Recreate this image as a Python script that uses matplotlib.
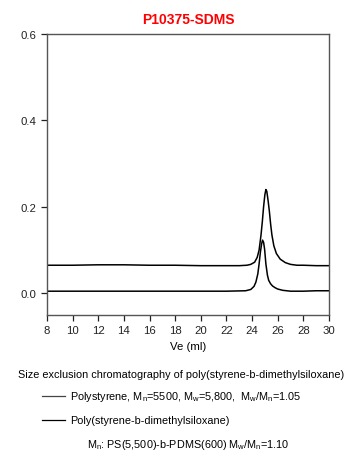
import matplotlib

matplotlib.use('Agg')
import numpy as np
import matplotlib.pyplot as plt
from matplotlib.lines import Line2D

plt.rcParams['font.family'] = ['Liberation Sans', 'DejaVu Sans']
plt.rcParams['mathtext.fontset'] = 'custom'
plt.rcParams['mathtext.rm'] = 'Liberation Sans'
plt.rcParams['mathtext.it'] = 'Liberation Sans'

# elution volume (ml) and detector signal
ps_ve = [8, 10, 12, 14, 16, 18, 20, 22, 23, 23.6, 23.9, 24.2, 24.4, 24.55, 24.7, 24.8,
         24.9, 25.0, 25.08, 25.15, 25.25, 25.35, 25.45, 25.55, 25.7, 25.9, 26.2,
         26.6, 27.0, 27.5, 28, 29, 30]
ps_sig = [0.065, 0.065, 0.066, 0.066, 0.065, 0.065, 0.064, 0.064, 0.064, 0.065, 0.067,
          0.072, 0.083, 0.100, 0.135, 0.165, 0.200, 0.228, 0.240, 0.236, 0.215, 0.190,
          0.160, 0.135, 0.110, 0.092, 0.079, 0.071, 0.067, 0.065, 0.065, 0.064, 0.064]

sdms_ve = [8, 10, 12, 14, 16, 18, 20, 22, 23.5, 23.9, 24.15, 24.3, 24.45, 24.55, 24.65,
           24.75, 24.82, 24.9, 24.98, 25.08, 25.2, 25.3, 25.45, 25.6, 25.8, 26.0,
           26.4, 27.0, 28, 29, 30]
sdms_sig = [0.005, 0.005, 0.005, 0.005, 0.005, 0.005, 0.005, 0.005, 0.006, 0.009, 0.016,
            0.026, 0.045, 0.068, 0.095, 0.115, 0.123, 0.118, 0.102, 0.068, 0.042, 0.030,
            0.022, 0.017, 0.013, 0.010, 0.007, 0.005, 0.005, 0.006, 0.006]

x_ticks = [8, 10, 12, 14, 16, 18, 20, 22, 24, 26, 28, 30]
y_ticks = [0.0, 0.2, 0.4, 0.6]

fig = plt.figure(figsize=(3.56, 4.64), dpi=100)
ax = fig.add_axes([0.132, 0.319, 0.792, 0.606])

ax.plot(ps_ve, ps_sig, color='black', linewidth=1.1)
ax.plot(sdms_ve, sdms_sig, color='black', linewidth=1.1)

ax.set_xlim(8, 30)
ax.set_ylim(-0.05, 0.6)
ax.set_xticks(x_ticks)
ax.set_yticks(y_ticks)
ax.set_yticklabels(['%.1f' % v for v in y_ticks])
ax.tick_params(direction='out', length=4, width=0.9, labelsize=8.2, colors='#222222')
for s in ax.spines.values():
    s.set_color('#555555')
    s.set_linewidth(1.0)
ax.set_xlabel('Ve (ml)', fontsize=8.2, labelpad=4)
ax.set_title('P10375-SDMS', color='red', fontweight='bold', fontsize=10, pad=8)

W, H = 356.0, 464.0
fs = 7.8
fig.text(181 / W, 1 - 375 / H, 'Size exclusion chromatography of poly(styrene-b-dimethylsiloxane)',
         ha='center', va='center', fontsize=fs)
fig.add_artist(Line2D([42 / W, 65 / W], [1 - 397 / H] * 2, color='#444444', linewidth=0.9))
fig.add_artist(Line2D([42 / W, 65 / W], [1 - 421 / H] * 2, color='black', linewidth=0.9))
fig.text(70 / W, 1 - 397 / H,
         r'Polystyrene, M$_\mathrm{n}$=5500, M$_\mathrm{w}$=5,800,  M$_\mathrm{w}$/M$_\mathrm{n}$=1.05',
         ha='left', va='center', fontsize=fs)
fig.text(70 / W, 1 - 421 / H, 'Poly(styrene-b-dimethylsiloxane)',
         ha='left', va='center', fontsize=fs)
fig.text(87 / W, 1 - 445 / H,
         r'M$_\mathrm{n}$: PS(5,500)-b-PDMS(600) M$_\mathrm{w}$/M$_\mathrm{n}$=1.10',
         ha='left', va='center', fontsize=fs)

fig.savefig('out.png', dpi=100)
